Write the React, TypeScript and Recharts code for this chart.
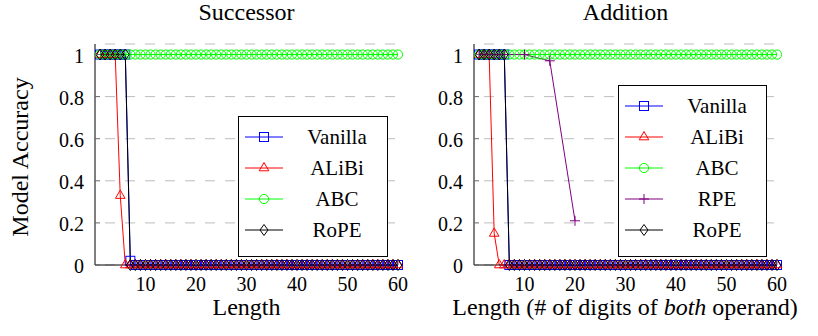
import React from 'react';
import { LineChart, Line, XAxis, YAxis, CartesianGrid } from 'recharts';

// lengths evaluated (1..60)
const lengths = Array.from({ length: 60 }, (_, i) => i + 1);

const X_TICKS = [10, 20, 30, 40, 50, 60];
const Y_TICKS = [0, 0.2, 0.4, 0.6, 0.8, 1];

// Successor task
const succVanilla = [
  1, 1, 1, 1, 1, 1, 0.02, 0, 0, 0,
  0, 0, 0, 0, 0, 0, 0, 0, 0, 0,
  0, 0, 0, 0, 0, 0, 0, 0, 0, 0,
  0, 0, 0, 0, 0, 0, 0, 0, 0, 0,
  0, 0, 0, 0, 0, 0, 0, 0, 0, 0,
  0, 0, 0, 0, 0, 0, 0, 0, 0, 0,
];
const succAlibi = [
  1, 1, 1, 1, 0.33, 0, 0, 0, 0, 0,
  0, 0, 0, 0, 0, 0, 0, 0, 0, 0,
  0, 0, 0, 0, 0, 0, 0, 0, 0, 0,
  0, 0, 0, 0, 0, 0, 0, 0, 0, 0,
  0, 0, 0, 0, 0, 0, 0, 0, 0, 0,
  0, 0, 0, 0, 0, 0, 0, 0, 0, 0,
];
const succAbc = [
  1, 1, 1, 1, 1, 1, 1, 1, 1, 1,
  1, 1, 1, 1, 1, 1, 1, 1, 1, 1,
  1, 1, 1, 1, 1, 1, 1, 1, 1, 1,
  1, 1, 1, 1, 1, 1, 1, 1, 1, 1,
  1, 1, 1, 1, 1, 1, 1, 1, 1, 1,
  1, 1, 1, 1, 1, 1, 1, 1, 1, 1,
];
const succRope = [
  1, 1, 1, 1, 1, 1, 0, 0, 0, 0,
  0, 0, 0, 0, 0, 0, 0, 0, 0, 0,
  0, 0, 0, 0, 0, 0, 0, 0, 0, 0,
  0, 0, 0, 0, 0, 0, 0, 0, 0, 0,
  0, 0, 0, 0, 0, 0, 0, 0, 0, 0,
  0, 0, 0, 0, 0, 0, 0, 0, 0, 0,
];

// Addition task
const addVanilla = [
  1, 1, 1, 1, 1, 1, 0, 0, 0, 0,
  0, 0, 0, 0, 0, 0, 0, 0, 0, 0,
  0, 0, 0, 0, 0, 0, 0, 0, 0, 0,
  0, 0, 0, 0, 0, 0, 0, 0, 0, 0,
  0, 0, 0, 0, 0, 0, 0, 0, 0, 0,
  0, 0, 0, 0, 0, 0, 0, 0, 0, 0,
];
const addAlibi = [
  1, 1, 1, 0.15, 0, 0, 0, 0, 0, 0,
  0, 0, 0, 0, 0, 0, 0, 0, 0, 0,
  0, 0, 0, 0, 0, 0, 0, 0, 0, 0,
  0, 0, 0, 0, 0, 0, 0, 0, 0, 0,
  0, 0, 0, 0, 0, 0, 0, 0, 0, 0,
  0, 0, 0, 0, 0, 0, 0, 0, 0, 0,
];
const addAbc = [
  1, 1, 1, 1, 1, 1, 1, 1, 1, 1,
  1, 1, 1, 1, 1, 1, 1, 1, 1, 1,
  1, 1, 1, 1, 1, 1, 1, 1, 1, 1,
  1, 1, 1, 1, 1, 1, 1, 1, 1, 1,
  1, 1, 1, 1, 1, 1, 1, 1, 1, 1,
  1, 1, 1, 1, 1, 1, 1, 1, 1, 1,
];
const addRope = [
  1, 1, 1, 1, 1, 1, 0, 0, 0, 0,
  0, 0, 0, 0, 0, 0, 0, 0, 0, 0,
  0, 0, 0, 0, 0, 0, 0, 0, 0, 0,
  0, 0, 0, 0, 0, 0, 0, 0, 0, 0,
  0, 0, 0, 0, 0, 0, 0, 0, 0, 0,
  0, 0, 0, 0, 0, 0, 0, 0, 0, 0,
];
const rpeLengths = [1, 2, 3, 4, 5, 6, 10, 15, 20];
const rpeAcc = [1, 1, 1, 1, 1, 1, 1, 0.97, 0.21];

const succRows = lengths.map((len, i) => ({
  len,
  vanilla: succVanilla[i],
  alibi: succAlibi[i],
  abc: succAbc[i],
  rope: succRope[i],
}));
const addRows = lengths.map((len, i) => ({
  len,
  vanilla: addVanilla[i],
  alibi: addAlibi[i],
  abc: addAbc[i],
  rope: addRope[i],
}));
const rpeRows = rpeLengths.map((len, i) => ({ len, rpe: rpeAcc[i] }));

const FONT = '"Liberation Serif", "Times New Roman", serif';
const TICK_GRAY = '#666';

type Mark = 'square' | 'triangle' | 'circle' | 'plus' | 'diamond';

const drawMark = (kind: Mark, cx: number, cy: number, color: string, key?: string) => {
  const common = { fill: 'none', stroke: color, strokeWidth: 1 };
  switch (kind) {
    case 'square':
      return <rect key={key} x={cx - 4.5} y={cy - 4.5} width={9} height={9} {...common} />;
    case 'triangle':
      return (
        <polygon
          key={key}
          points={`${cx},${cy - 5.5} ${cx + 4.8},${cy + 2.8} ${cx - 4.8},${cy + 2.8}`}
          {...common}
        />
      );
    case 'circle':
      return <circle key={key} cx={cx} cy={cy} r={4.6} {...common} />;
    case 'plus':
      return <path key={key} d={`M${cx - 5},${cy}H${cx + 5}M${cx},${cy - 5}V${cy + 5}`} {...common} />;
    case 'diamond':
      return (
        <polygon
          key={key}
          points={`${cx},${cy - 5.5} ${cx + 4},${cy} ${cx},${cy + 5.5} ${cx - 4},${cy}`}
          {...common}
        />
      );
  }
  return null;
};

const dotFor = (kind: Mark, color: string) => (p: any) => {
  const key = `dot-${p.index}`;
  if (p.cx == null || p.cy == null) return <g key={key} />;
  return drawMark(kind, p.cx, p.cy, color, key) as any;
};

interface SeriesDef {
  key: string;
  name: string;
  color: string;
  mark: Mark;
  data?: any[];
}

const succSeries: SeriesDef[] = [
  { key: 'vanilla', name: 'Vanilla', color: '#0000ff', mark: 'square' },
  { key: 'alibi', name: 'ALiBi', color: '#ff0000', mark: 'triangle' },
  { key: 'abc', name: 'ABC', color: '#00ff00', mark: 'circle' },
  { key: 'rope', name: 'RoPE', color: '#000000', mark: 'diamond' },
];

const addSeries: SeriesDef[] = [
  { key: 'vanilla', name: 'Vanilla', color: '#0000ff', mark: 'square' },
  { key: 'alibi', name: 'ALiBi', color: '#ff0000', mark: 'triangle' },
  { key: 'abc', name: 'ABC', color: '#00ff00', mark: 'circle' },
  { key: 'rpe', name: 'RPE', color: '#800080', mark: 'plus', data: rpeRows },
  { key: 'rope', name: 'RoPE', color: '#000000', mark: 'diamond' },
];

const XTick = (p: any) => {
  const axisY = p.y - 8;
  return (
    <g>
      <line x1={p.x} x2={p.x} y1={axisY} y2={axisY - 5} stroke={TICK_GRAY} />
      <text x={p.x} y={axisY + 26} textAnchor="middle" fontSize={20} fontFamily={FONT} fill="#000">
        {p.payload.value}
      </text>
    </g>
  );
};

const YTick = (p: any) => {
  const axisX = p.x + 11;
  return (
    <g>
      <line x1={axisX} x2={axisX + 5} y1={p.y} y2={p.y} stroke={TICK_GRAY} />
      <text x={p.x} y={p.y + 8} textAnchor="end" fontSize={20} fontFamily={FONT} fill="#000">
        {String(p.payload.value)}
      </text>
    </g>
  );
};

const Blank = () => <g />;

interface PanelProps {
  left: number;
  width: number;
  margin: { top: number; right: number; bottom: number; left: number };
  rows: any[];
  series: SeriesDef[];
}

const Panel: React.FC<PanelProps> = ({ left, width, margin, rows, series }) => (
  <div style={{ position: 'absolute', left, top: 0 }}>
    <LineChart width={width} height={336} margin={margin} data={rows}>
      <CartesianGrid vertical={false} stroke="#bdbdbd" strokeDasharray="10 10" strokeDashoffset={10} />
      <XAxis
        dataKey="len"
        type="number"
        domain={[0, 60]}
        ticks={X_TICKS}
        interval={0}
        height={30}
        tickSize={0}
        tickMargin={8}
        tickLine={false}
        axisLine={{ stroke: '#000' }}
        tick={XTick}
      />
      <XAxis
        xAxisId="top"
        orientation="top"
        mirror
        dataKey="len"
        type="number"
        domain={[0, 60]}
        ticks={X_TICKS}
        interval={0}
        height={0}
        tickSize={5}
        tickLine={{ stroke: TICK_GRAY }}
        axisLine={{ stroke: '#000' }}
        tick={Blank}
      />
      <YAxis
        domain={[0, 1.05]}
        ticks={Y_TICKS}
        interval={0}
        width={40}
        tickSize={0}
        tickMargin={11}
        tickLine={false}
        axisLine={{ stroke: '#000' }}
        tick={YTick}
      />
      <YAxis
        yAxisId="right"
        orientation="right"
        mirror
        domain={[0, 1.05]}
        ticks={Y_TICKS}
        interval={0}
        width={0}
        tickSize={5}
        tickLine={{ stroke: TICK_GRAY }}
        axisLine={{ stroke: '#000' }}
        tick={Blank}
      />
      {series.map((s) => (
        <Line
          key={s.key}
          data={s.data}
          dataKey={s.key}
          name={s.name}
          type="linear"
          stroke={s.color}
          strokeWidth={1}
          dot={dotFor(s.mark, s.color)}
          activeDot={false}
          isAnimationActive={false}
        />
      ))}
    </LineChart>
  </div>
);

const LegendBox: React.FC<{ left: number; top: number; width: number; height: number; series: SeriesDef[] }> = ({
  left,
  top,
  width,
  height,
  series,
}) => (
  <div
    style={{
      position: 'absolute',
      left,
      top,
      width,
      height,
      boxSizing: 'border-box',
      border: '1px solid #000',
      background: '#fff',
    }}
  >
    {series.map((s, i) => (
      <div key={s.key} style={{ position: 'absolute', left: 0, top: 20 + i * 31 - 12, width, height: 24 }}>
        <svg width={46} height={24} style={{ position: 'absolute', left: 5, top: 0 }}>
          <line x1={1} x2={39} y1={12} y2={12} stroke={s.color} strokeWidth={1} />
          {drawMark(s.mark, 20, 12, s.color)}
        </svg>
        <div
          style={{
            position: 'absolute',
            left: 58,
            width: 80,
            top: 0,
            lineHeight: '24px',
            textAlign: 'center',
            fontSize: 21,
          }}
        >
          {s.name}
        </div>
      </div>
    ))}
  </div>
);

const labelStyle: React.CSSProperties = {
  position: 'absolute',
  textAlign: 'center',
  fontSize: 24,
  lineHeight: '28px',
  whiteSpace: 'nowrap',
};

export default function App() {
  return (
    <div
      style={{
        position: 'absolute',
        left: 0,
        top: 0,
        width: 818,
        height: 336,
        background: '#fff',
        fontFamily: FONT,
        color: '#000',
        overflow: 'hidden',
      }}
    >
      <Panel
        left={0}
        width={410}
        margin={{ top: 44, right: 12, bottom: 41, left: 55 }}
        rows={succRows}
        series={succSeries}
      />
      <Panel
        left={410}
        width={408}
        margin={{ top: 44, right: 41, bottom: 41, left: 24 }}
        rows={addRows}
        series={addSeries}
      />

      <LegendBox left={238} top={116} width={150} height={141} series={succSeries} />
      <LegendBox left={618} top={85} width={149} height={172} series={addSeries} />

      <div style={{ ...labelStyle, left: 95, width: 303, top: -2 }}>Successor</div>
      <div style={{ ...labelStyle, left: 474, width: 303, top: -2 }}>Addition</div>
      <div style={{ ...labelStyle, left: 95, width: 303, top: 293 }}>Length</div>
      <div style={{ ...labelStyle, left: 375, width: 500, top: 293 }}>
        Length (# of digits of <i>both</i> operand)
      </div>
      <div
        style={{
          ...labelStyle,
          left: 20 - 100,
          top: 157 - 14,
          width: 200,
          transform: 'rotate(-90deg)',
        }}
      >
        Model Accuracy
      </div>
    </div>
  );
}
